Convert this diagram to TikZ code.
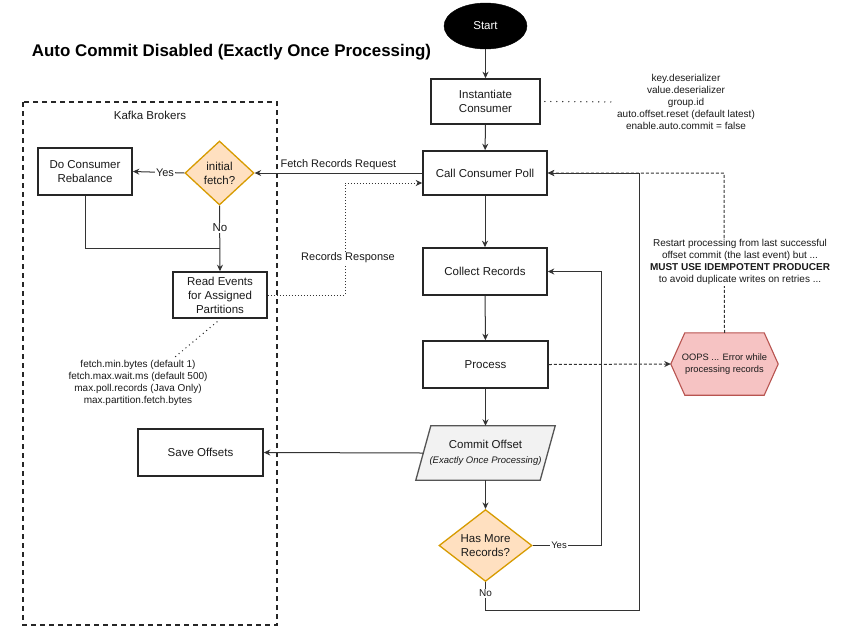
\documentclass[tikz,border=0pt]{standalone}
\usepackage{fontspec}
\setmainfont{Liberation Sans}
\usetikzlibrary{shapes.geometric,arrows.meta,calc,backgrounds}
\definecolor{boxc}{HTML}{262626}
\definecolor{linec}{HTML}{333333}
\definecolor{orangef}{HTML}{FFE0C0}
\definecolor{orangeb}{HTML}{D79B00}
\definecolor{pinkf}{HTML}{F6C3C3}
\definecolor{pinkb}{HTML}{B85450}
\definecolor{grayf}{HTML}{F2F2F2}
\definecolor{grayb}{HTML}{555555}
\definecolor{txtc}{HTML}{1A1A1A}
\tikzset{
  box/.style={draw=boxc, line width=1.6pt, align=center, inner sep=0pt, text=txtc,
    font=\fontsize{11.5pt}{14pt}\selectfont},
  conn/.style={draw=linec, line width=1pt},
  arr/.style={conn, -{Stealth[length=6.5pt,width=6pt]}},
  decis/.style={diamond, draw=orangeb, fill=orangef, line width=1.3pt, inner sep=0pt,
    align=center, text=txtc, font=\fontsize{11.5pt}{14pt}\selectfont},
  note/.style={align=center, text=txtc, inner sep=1pt, font=\fontsize{10pt}{12pt}\selectfont},
  elabel/.style={fill=white, inner sep=1pt, text=txtc, font=\fontsize{11pt}{13pt}\selectfont},
  dotline/.style={draw=boxc, line width=1.4pt, line cap=round, dash pattern=on 0pt off 6pt},
}
\begin{document}
\begin{tikzpicture}[x=1pt,y=-1pt]
\useasboundingbox (0,0) rectangle (861,638);

% title
\node[font=\fontsize{16.9pt}{20pt}\selectfont\bfseries, text=black] (title) at (231.5,52) {Auto Commit Disabled (Exactly Once Processing)};

% container
\draw[draw=boxc, line width=1.6pt, dash pattern=on 5pt off 4pt] (23,102) rectangle (277,625);
\node[font=\fontsize{11.5pt}{14pt}\selectfont, text=txtc] (kb) at (150,115) {Kafka Brokers};

% main flow
\node[ellipse, fill=black, draw=black, minimum width=83pt, minimum height=46pt, inner sep=0pt,
  text=white, font=\fontsize{11.5pt}{14pt}\selectfont] (start) at (485.5,26) {Start};
\node[box, minimum width=109pt, minimum height=45pt] (inst) at (485.5,101.5) {Instantiate\\Consumer};
\node[box, minimum width=124pt, minimum height=44pt] (poll) at (485,173) {Call Consumer Poll};
\node[box, minimum width=124pt, minimum height=47pt] (collect) at (485,271.5) {Collect Records};
\node[box, minimum width=125pt, minimum height=47pt] (process) at (485.5,364.5) {Process};
\node[align=center, inner sep=0pt, minimum width=124pt, minimum height=54pt, text=txtc,
  font=\fontsize{11.5pt}{15pt}\selectfont] (commit) at (485.5,453)
  {Commit Offset\\{\fontsize{9.5pt}{12pt}\selectfont\itshape (Exactly Once Processing)}};
\node[decis, minimum width=93pt, minimum height=69pt] (hasmore) at (485.5,545.5) {Has More\\Records?};

\node[box, minimum width=125pt, minimum height=47pt] (save) at (200.5,452.5) {Save Offsets};

% broker side
\node[box, minimum width=94pt, minimum height=47pt] (rebal) at (85,171.5) {Do Consumer\\Rebalance};
\node[decis, minimum width=69pt, minimum height=64pt] (initf) at (219.5,173) {initial\\fetch?};
\node[box, minimum width=94pt, minimum height=46pt] (read) at (220,295) {Read Events\\for Assigned\\Partitions};

% error
\node[align=center, inner sep=0pt, minimum width=107pt, minimum height=62pt, text=txtc,
  font=\fontsize{9.3pt}{11.5pt}\selectfont] (oops) at (724.5,364) {OOPS ... Error while\\processing records};

\begin{pgfonlayer}{background}
\fill[white] (0,0) rectangle (861,638);
\filldraw[fill=grayf, draw=grayb, line width=1.3pt]
  ($(commit.south west)+(-7.5,0)$) -- ($(commit.north west)+(7.5,0)$) --
  ($(commit.north east)+(7.5,0)$) -- ($(commit.south east)+(-7.5,0)$) -- cycle;
\filldraw[fill=pinkf, draw=pinkb, line width=1.1pt]
  (oops.west) -- ($(oops.north west)+(14,0)$) -- ($(oops.north east)+(-14,0)$) --
  (oops.east) -- ($(oops.south east)+(-14,0)$) -- ($(oops.south west)+(14,0)$) -- cycle;
\end{pgfonlayer}

% notes
\node[note] (cfg) at (686,102) {key.deserializer\\value.deserializer\\group.id\\auto.offset.reset (default latest)\\enable.auto.commit = false};
\node[note] (fetchtxt) at (138,383) {fetch.min.bytes (default 1)\\fetch.max.wait.ms (default 500)\\max.poll.records (Java Only)\\max.partition.fetch.bytes};

% coordinates
\coordinate (j1) at (219.5,248);
\coordinate (rr) at (345,183);
\coordinate (yesx) at (601,545.5);
\coordinate (b1) at (639,610);
\coordinate (oopsup) at (724,173);
\coordinate (fe) at (175,357);

% main connectors
\draw[arr] (start) -- (inst);
\draw[arr] (inst) -- (poll);
\draw[arr] (poll) -- (collect);
\draw[arr] (collect) -- (process);
\draw[arr] (process) -- (commit);
\draw[arr] (commit) -- (hasmore);
\draw[arr] (commit.west) -- (save.east);
\draw[arr] (hasmore.east) -- (yesx) |- (collect.east);
\node[elabel, font=\fontsize{9.5pt}{11pt}\selectfont] (lyes2) at (559,545.5) {Yes};
\draw[arr] (hasmore.south) |- (b1) |- (poll.east);
\node[elabel, font=\fontsize{10pt}{12pt}\selectfont] (lno2) at (485.5,593) {No};

% broker connectors
\draw[arr] (poll.west) -- (initf.east) node[midway, above=2pt, elabel, fill=none] (lfetch) {Fetch Records Request};
\draw[arr] (initf.west) -- (rebal.east);
\node[elabel] (lyes1) at (165,173) {Yes};
\draw[arr] (initf.south) -- (read.north);
\node[elabel, font=\fontsize{11.5pt}{13pt}\selectfont] (lno1) at (220,228) {No};
\draw[conn] (rebal.south) |- (j1);
\draw[conn, dotted, -{Stealth[length=6.5pt,width=6pt]}] (read.east) -| (rr) -- ([yshift=-10pt]poll.west);
\node[elabel] (lresp) at (348,258) {Records Response};

% dotted notes
\draw[dotline] ([xshift=4pt]inst.east) -- (cfg.west);
\draw[dotline, dash pattern=on 0pt off 4.5pt] ([xshift=-3pt,yshift=-3pt]read.south) -- (fe);

% error connectors
\draw[conn, dash pattern=on 3pt off 2pt, -{Stealth[length=6.5pt,width=6pt]}] (process.east) -- (oops.west);
\draw[conn, dash pattern=on 3pt off 2pt, -{Stealth[length=6.5pt,width=6pt]}] (oops.north) -- (oopsup) -- (poll.east);
\node[note, fill=white] (restart) at (740,262) {Restart processing from last successful\\offset commit (the last event) but ...\\\textbf{MUST USE IDEMPOTENT PRODUCER}\\to avoid duplicate writes on retries ...};
\end{tikzpicture}
\end{document}
